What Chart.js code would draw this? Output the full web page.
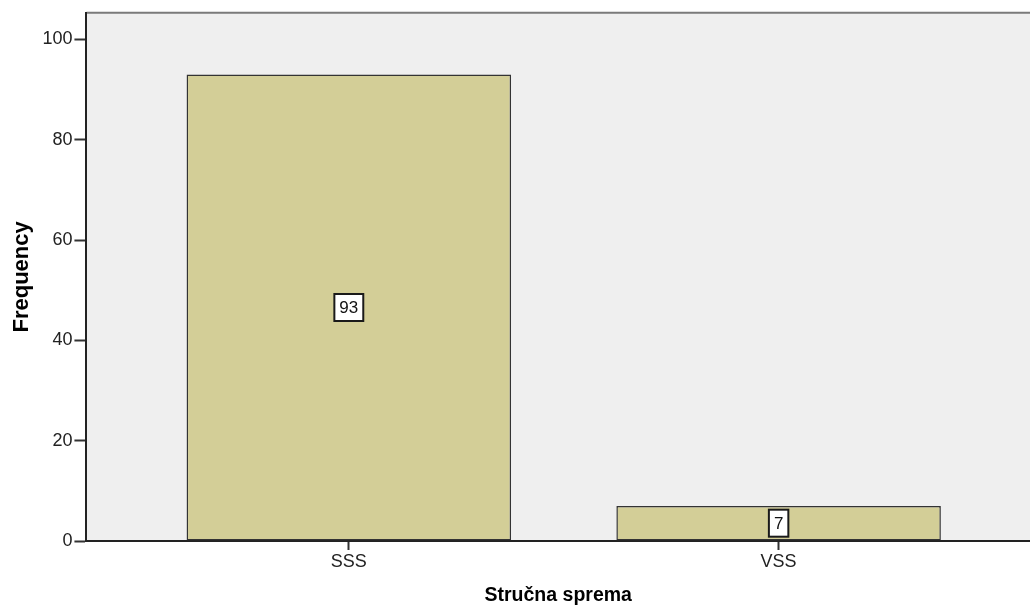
<!DOCTYPE html>
<html>
<head>
<meta charset="utf-8">
<script src="https://cdn.jsdelivr.net/npm/chart.js@4/dist/chart.umd.min.js"></script>
<style>
  html, body { margin: 0; padding: 0; background: #fff; }
  #wrap { width: 1030px; height: 609px; }
</style>
</head>
<body>
<div id="wrap"><canvas id="barChart"></canvas></div>
<script>
// categories and counts
const categories = ["SSS", "VSS"]
const counts = [93, 7]
const yTicks = [0, 20, 40, 60, 80, 100]

const FONT = "'Liberation Sans', Arial, sans-serif"

// grey plot background with a thin top rule
const plotBackground = {
  id: "plotBackground",
  beforeDraw(chart) {
    const { ctx, chartArea: a } = chart
    ctx.save()
    ctx.fillStyle = "#efefef"
    ctx.fillRect(a.left, a.top, a.right - a.left, a.bottom - a.top)
    ctx.strokeStyle = "#7a7a7a"
    ctx.lineWidth = 2
    ctx.beginPath()
    ctx.moveTo(a.left, a.top)
    ctx.lineTo(a.right, a.top)
    ctx.stroke()
    ctx.restore()
  },
}

// boxed value labels in the middle of each bar
const boxedLabels = {
  id: "boxedLabels",
  afterDatasetsDraw(chart) {
    const { ctx } = chart
    const meta = chart.getDatasetMeta(0)
    ctx.save()
    ctx.font = "17px " + FONT
    ctx.textAlign = "center"
    ctx.textBaseline = "middle"
    meta.data.forEach((bar, i) => {
      const text = String(counts[i])
      const cy = (bar.y + bar.base) / 2
      const w = ctx.measureText(text).width + 10
      const h = 27
      ctx.fillStyle = "#ffffff"
      ctx.fillRect(bar.x - w / 2, cy - h / 2, w, h)
      ctx.strokeStyle = "#1a1a1a"
      ctx.lineWidth = 2
      ctx.strokeRect(bar.x - w / 2, cy - h / 2, w, h)
      ctx.fillStyle = "#111"
      ctx.fillText(text, bar.x, cy + 1)
    })
    ctx.restore()
  },
}

const ctx = document.getElementById("barChart").getContext("2d")
new Chart(ctx, {
  type: "bar",
  data: {
    datasets: [
      {
        label: "Frequency",
        data: counts.map((v, i) => ({ x: i, y: v })),
        backgroundColor: "#d3ce97",
        borderColor: "#333333",
        borderWidth: 1.5,
        borderSkipped: false,
        categoryPercentage: 1,
        barPercentage: 0.755,
      },
    ],
  },
  options: {
    responsive: true,
    maintainAspectRatio: false,
    animation: false,
    layout: { padding: { top: 9, left: 1, right: 0, bottom: 0 } },
    plugins: {
      legend: { display: false },
      tooltip: { enabled: false },
    },
    scales: {
      x: {
        type: "linear",
        offset: false,
        min: -0.6105,
        max: 1.5849,
        afterBuildTicks: (axis) => {
          axis.ticks = categories.map((c, i) => ({ value: i }))
        },
        ticks: {
          callback: (value) => categories[value],
          color: "#222",
          font: { family: FONT, size: 18 },
          padding: 1,
          maxRotation: 0,
        },
        grid: {
          offset: false,
          drawOnChartArea: false,
          drawTicks: true,
          tickLength: 9,
          tickWidth: 2,
          tickColor: "#333",
        },
        border: { display: true, color: "#222", width: 2 },
        title: {
          display: true,
          text: "Stručna sprema",
          color: "#000",
          font: { family: FONT, size: 19.5, weight: "bold" },
          padding: { top: 10, bottom: 2 },
        },
      },
      y: {
        min: 0,
        max: 105.3,
        afterBuildTicks: (axis) => {
          axis.ticks = yTicks.map((v) => ({ value: v }))
        },
        ticks: {
          color: "#222",
          font: { family: FONT, size: 18 },
          padding: 2,
        },
        grid: {
          drawOnChartArea: false,
          drawTicks: true,
          tickLength: 12,
          tickWidth: 2,
          tickColor: "#333",
        },
        border: { display: true, color: "#222", width: 2 },
        title: {
          display: true,
          text: "Frequency",
          color: "#000",
          font: { family: FONT, size: 22, weight: "bold" },
          padding: { top: 8, bottom: 5 },
        },
      },
    },
  },
  plugins: [plotBackground, boxedLabels],
})
</script>
</body>
</html>
